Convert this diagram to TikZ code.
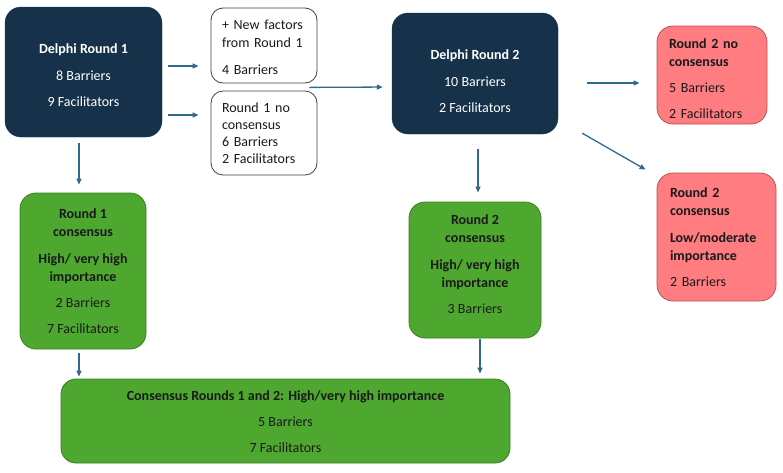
\documentclass[tikz,border=0pt]{standalone}
\usepackage{fontspec}
\setmainfont{Carlito}
\usetikzlibrary{arrows.meta,calc}
\definecolor{navy}{HTML}{15324A}
\definecolor{grn}{HTML}{4EA72E}
\definecolor{grnb}{HTML}{3A7D22}
\definecolor{pnk}{HTML}{FF7C80}
\definecolor{pnkb}{HTML}{B85450}
\definecolor{arrc}{HTML}{2E6A8E}
\definecolor{txtd}{HTML}{1A1A1A}
\tikzset{
  base/.style={rectangle, font=\fontsize{14}{18}\selectfont, inner sep=0pt},
  darkbox/.style={base, fill=navy, draw=navy, text=white, rounded corners=16pt, align=center},
  whitebox/.style={base, fill=white, draw=black!75, line width=0.8pt, rounded corners=12pt, align=left, inner xsep=11pt, font=\fontsize{14}{17}\selectfont, text=txtd},
  greenbox/.style={base, fill=grn, draw=grnb, line width=0.8pt, rounded corners=16pt, align=center, text=txtd},
  pinkbox/.style={base, fill=pnk, draw=pnkb, line width=0.8pt, rounded corners=16pt, align=left, inner xsep=12pt, text=txtd},
  arr/.style={draw=arrc, line width=1.3pt, -{Triangle[length=6pt,width=5pt]}}
}
\begin{document}
\begin{tikzpicture}[x=1pt,y=-1pt]
\useasboundingbox (0,0) rectangle (783,472);
% boxes
\node[darkbox, minimum width=157pt, minimum height=130pt] (D1) at (83.5,72)
  {\rule{0pt}{16.5pt}\textbf{Delphi Round 1}\\[9pt]8 Barriers\\[8pt]9 Facilitators};
\node[whitebox, text width=84pt, minimum height=75pt, font=\fontsize{14}{18.5}\selectfont] (NF) at (264,45.5)
  {\rule{0pt}{13pt}+ New factors\\from Round 1\\[8.5pt]4 Barriers};
\node[whitebox, text width=84pt, minimum height=84pt] (R1NC) at (264,133)
  {Round 1 no\\consensus\\6 Barriers\\2 Facilitators};
\node[darkbox, minimum width=166pt, minimum height=121pt] (D2) at (475,73.5)
  {\rule{0pt}{26pt}\textbf{Delphi Round 2}\\[9pt]10 Barriers\\[8pt]2 Facilitators};
\node[pinkbox, text width=86pt, minimum height=98pt] (R2NC) at (712,75)
  {\rule{0pt}{17.5pt}\textbf{Round 2 no}\\\textbf{consensus}\\[8.5pt]5 Barriers\\[8pt]2 Facilitators};
\node[pinkbox, inner xsep=13pt, text width=93pt, minimum height=128pt] (R2CL) at (716.5,237)
  {\textbf{Round 2}\\\textbf{consensus}\\[9pt]\textbf{Low/moderate}\\\textbf{importance}\\[8pt]2 Barriers};
\node[greenbox, minimum width=126pt, minimum height=156pt] (R1C) at (83,271)
  {\textbf{Round 1}\\\textbf{consensus}\\[9pt]\textbf{High/ very high}\\\textbf{importance}\\[8pt]2 Barriers\\[8pt]7 Facilitators};
\node[greenbox, minimum width=132pt, minimum height=136pt] (R2C) at (475,270)
  {\textbf{Round 2}\\\textbf{consensus}\\[9pt]\textbf{High/ very high}\\\textbf{importance}\\[8pt]3 Barriers\rule[-12pt]{0pt}{12pt}};
\node[greenbox, minimum width=449pt, minimum height=84pt, rounded corners=15pt] (FIN) at (285.5,421)
  {\rule{0pt}{12pt}\textbf{Consensus Rounds 1 and 2: High/very high importance}\\[8pt]5 Barriers\\[8pt]7 Facilitators};
% arrows
\draw[arr, shorten <=6pt, shorten >=12pt] ([yshift=6pt]D1.east) -- ([yshift=-20.5pt]NF.west);
\draw[arr, shorten <=6pt, shorten >=12pt] ([yshift=-43pt]D1.east) -- ([yshift=18pt]R1NC.west);
\draw[arr, shorten >=9pt] ([xshift=-8pt,yshift=-4pt]NF.south east) -- ([yshift=-13.5pt]D2.west);
\draw[arr, shorten <=29pt, shorten >=17pt] ([yshift=-9.5pt]D2.east) -- ([yshift=-8pt]R2NC.west);
\draw[arr] ([xshift=24pt,yshift=1pt]D2.south east) -- ([xshift=-11pt,yshift=3pt]R2CL.north west);
\draw[arr, shorten <=6pt, shorten >=8pt] ([xshift=-4.5pt]D1.south) -- ([xshift=-4pt]R1C.north);
\draw[arr, shorten <=15pt, shorten >=9pt] ([xshift=3pt]D2.south) -- ([xshift=3pt]R2C.north);
\draw[arr, shorten <=4pt, shorten >=2pt] ([xshift=-4pt]R1C.south) -- ([xshift=-4pt]R1C.south |- FIN.north);
\draw[arr, shorten <=1pt, shorten >=5pt] ([xshift=5pt]R2C.south) -- ([xshift=5pt]R2C.south |- FIN.north);
\end{tikzpicture}
\end{document}
